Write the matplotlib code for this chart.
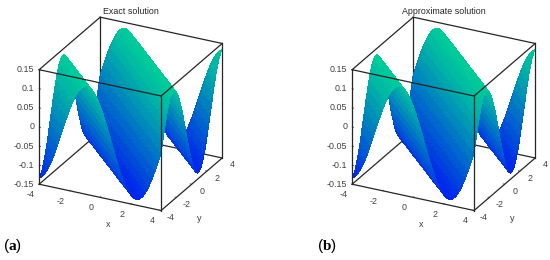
import numpy as np
import matplotlib
matplotlib.use('Agg')
import matplotlib.pyplot as plt
from mpl_toolkits.mplot3d import proj3d

plt.rcParams['font.family'] = ['Liberation Sans', 'DejaVu Sans']
plt.rcParams['mathtext.fontset'] = 'custom'
plt.rcParams['mathtext.rm'] = 'Liberation Serif'
plt.rcParams['mathtext.bf'] = 'Liberation Serif:bold'

titles = ['Exact solution', 'Approximate solution']
xticks = [-4, -2, 0, 2, 4]
yticks = [-4, -2, 0, 2, 4]
zticks = [-0.15, -0.1, -0.05, 0, 0.05, 0.1, 0.15]
zlabels = ['-0.15', '-0.1', '-0.05', '0', '0.05', '0.1', '0.15']
# both surfaces are ruled along x+y=const, height read across the diagonal (x+y = -8..8, step 0.2)
diag_height = [
    -0.134, -0.129, -0.118, -0.103, -0.085, -0.063, -0.039, -0.013,
    0.013, 0.038, 0.062, 0.084, 0.103, 0.118, 0.128, 0.134,
    0.135, 0.130, 0.121, 0.107, 0.090, 0.069, 0.045, 0.020,
    -0.006, -0.032, -0.057, -0.079, -0.099, -0.115, -0.126, -0.133,
    -0.135, -0.132, -0.124, -0.111, -0.094, -0.074, -0.051, -0.026,
    0.000,
    0.026, 0.051, 0.074, 0.094, 0.111, 0.124, 0.132, 0.135,
    0.133, 0.126, 0.115, 0.099, 0.079, 0.057, 0.032, 0.006,
    -0.020, -0.045, -0.069, -0.090, -0.107, -0.121, -0.130, -0.135,
    -0.134, -0.128, -0.118, -0.103, -0.084, -0.062, -0.038, -0.013,
    0.013, 0.039, 0.063, 0.085, 0.103, 0.118, 0.129, 0.134]

grid = np.arange(41)
X, Y = np.meshgrid(-4 + 0.2*grid, -4 + 0.2*grid)
Z = np.array(diag_height)[np.add.outer(grid, grid)]
lo, hi = -0.15, 0.15
tc = '#404040'
lc = '#262626'

def label(ax, x, y, z, s, **kw):
    px, py, _ = proj3d.proj_transform(x, y, z, ax.get_proj())
    ax.text2D(px, py, s, transform=ax.transData, va='center', **kw)

def panel(pos, title):
    ax = fig.add_axes(pos, projection='3d', computed_zorder=False)
    ax.set_proj_type('ortho')
    ax.view_init(elev=25.5, azim=-63.4)
    ax.set_box_aspect((1, 1, 0.93), zoom=0.958)
    ax.set_axis_off()
    ax.set_xlim(-4, 4); ax.set_ylim(-4, 4); ax.set_zlim(lo, hi)
    # back edges go under the surface
    for a, b, c in [((-4,-4),(-4,4),(lo,lo)), ((-4,4),(4,4),(lo,lo)), ((-4,-4),(4,4),(lo,hi))]:
        ax.plot(a, b, c, color=lc, lw=0.9, zorder=1)
    ax.plot_surface(X, Y, Z, cmap='winter', vmin=-0.197, vmax=0.218, linewidth=0, antialiased=False,
                    rstride=1, cstride=1, zorder=2)
    for a, b, c in [((-4,4),(-4,-4),(lo,lo)), ((4,4),(-4,4),(lo,lo)), ((-4,4),(-4,-4),(hi,hi)), ((4,4),(-4,4),(hi,hi)),
                    ((-4,4),(4,4),(hi,hi)), ((-4,-4),(-4,4),(hi,hi)), ((-4,-4),(-4,-4),(lo,hi)), ((4,4),(-4,-4),(lo,hi)), ((4,4),(4,4),(lo,hi))]:
        ax.plot(a, b, c, color=lc, lw=0.9, zorder=3)
    for v in xticks:
        ax.plot((v, v), (-4, -3.9), (lo, lo), color=lc, lw=0.5, zorder=3)
        label(ax, v+0.19, -5.5, lo, str(v), fontsize=6.4, color=tc, ha='center')
    for v in yticks:
        ax.plot((3.9, 4), (v, v), (lo, lo), color=lc, lw=0.5, zorder=3)
        label(ax, 4.95, v-0.59, lo, str(v), fontsize=6.4, color=tc, ha='center')
    for v, s in zip(zticks, zlabels):
        ax.plot((-4, -3.9), (-4, -4), (v, v), color=lc, lw=0.5, zorder=3)
        label(ax, -4.26, -4.13, v, s, fontsize=6.4, color=tc, ha='right')
    label(ax, 2.06, -7.08, lo, 'x', fontsize=6.6, color=tc, ha='center')
    label(ax, 6.49, -4.0, lo, 'y', fontsize=6.6, color=tc, ha='center')
    label(ax, 0, 0, 0.2675, title, fontsize=6.4, color=lc, ha='center')

fig = plt.figure(figsize=(5.5, 2.6), dpi=100)
panel([-10/550, 0.1, 0.5, 0.9], titles[0])
panel([303/550, 0.1, 0.5, 0.9], titles[1])
fig.text(3/550, 1-246/260, r'($\mathbf{a}$)', fontsize=11, va='center')
fig.text(317/550, 1-246/260, r'($\mathbf{b}$)', fontsize=11, va='center')
fig.savefig('out.png', dpi=100)
